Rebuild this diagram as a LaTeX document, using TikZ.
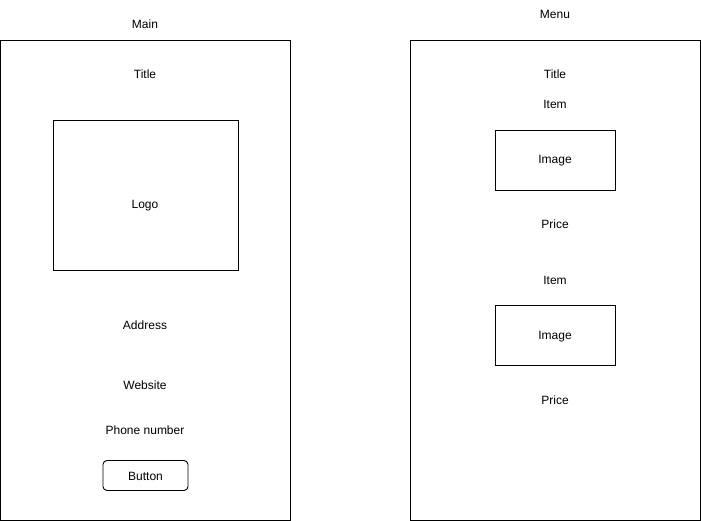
\documentclass[tikz,border=0pt]{standalone}
\usepackage{fontspec}
\setmainfont{Liberation Sans}
\usepackage{tikz}

\begin{document}
\begin{tikzpicture}[x=1pt,y=-1pt,
  lbl/.style={font=\fontsize{12}{14}\selectfont, inner sep=0pt, anchor=base},
  frame/.style={draw, line width=0.9pt}]
\useasboundingbox (0,0) rectangle (701,521);
% main screen
\draw[frame] (0.5,40.5) rectangle (290.5,520.5);
\node[lbl] (main) at (145,29) {Main};
\node[lbl] (title1) at (145,79) {Title};
\draw[frame] (53,120.5) rectangle (238,270.5);
\node[lbl] (logo) at (145,209) {Logo};
\node[lbl] (address) at (145,329) {Address};
\node[lbl] (website) at (145,389) {Website};
\node[lbl] (phone) at (145,434) {Phone number};
\draw[frame, rounded corners=4pt] (103,460.5) rectangle (188,490.5);
\node[lbl] (button) at (145.5,480) {Button};
% menu screen
\draw[frame] (410.5,40.5) rectangle (700.5,520.5);
\node[lbl] (menu) at (555,19) {Menu};
\node[lbl] (title2) at (555,79) {Title};
\node[lbl] (item1) at (555,109) {Item};
\draw[frame] (495.5,130.5) rectangle (615.5,190.5);
\node[lbl] (image1) at (555,164) {Image};
\node[lbl] (price1) at (555,229) {Price};
\node[lbl] (item2) at (555,284) {Item};
\draw[frame] (495.5,305.5) rectangle (615.5,365.5);
\node[lbl] (image2) at (555,339) {Image};
\node[lbl] (price2) at (555,404) {Price};
\end{tikzpicture}
\end{document}
